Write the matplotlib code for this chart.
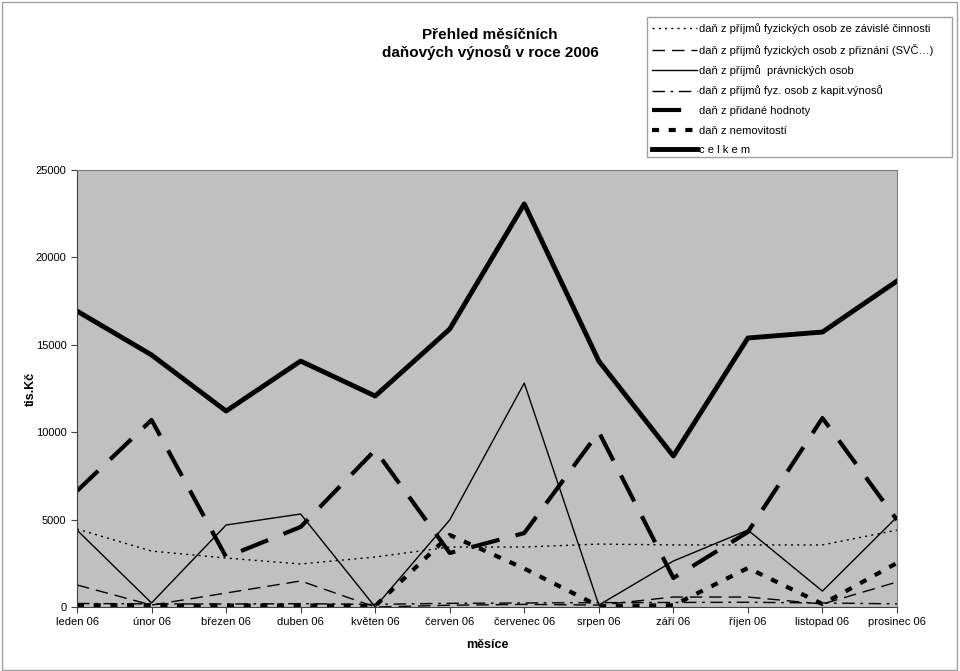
import matplotlib.pyplot as plt
from matplotlib.patches import Rectangle

plt.rcParams['font.family'] = ['Liberation Sans', 'DejaVu Sans']

mesice = ['leden 06', 'únor 06', 'březen 06', 'duben 06', 'květen 06', 'červen 06',
          'červenec 06', 'srpen 06', 'září 06', 'říjen 06', 'listopad 06', 'prosinec 06']

zavisla = [4460, 3200, 2800, 2460, 2860, 3430, 3430, 3600, 3550, 3550, 3550, 4400]
priznani = [1260, 110, 800, 1490, 0, 100, 150, 110, 570, 570, 170, 1430]
pravnicke = [4400, 230, 4690, 5320, 0, 4980, 12810, 110, 2630, 4400, 910, 5150]
kapital = [200, 180, 170, 190, 150, 210, 230, 250, 260, 270, 230, 180]
dph = [6640, 10700, 2860, 4580, 8980, 3090, 4230, 10010, 1660, 4290, 10810, 4980]
nemovitosti = [100, 100, 80, 90, 60, 4120, 2200, 50, 100, 2230, 170, 2520]
celkem = [16930, 14420, 11210, 14070, 12070, 15900, 23060, 14070, 8640, 15390, 15730, 18650]

fig = plt.figure(figsize=(9.6, 6.71), dpi=100)
fig.patches.append(Rectangle((0.002, 0.002), 0.995, 0.995, transform=fig.transFigure,
                             fill=False, edgecolor='#a0a0a0', linewidth=1))

ax = fig.add_axes([77 / 960, 1 - 607 / 671, 820 / 960, 437 / 671])
ax.set_facecolor('#c0c0c0')
x = range(len(mesice))

ax.plot(x, zavisla, color='black', lw=1, linestyle=(0, (1.5, 3)),
        label='daň z příjmů fyzických osob ze závislé činnosti')
ax.plot(x, priznani, color='black', lw=1, linestyle=(0, (9, 5)),
        label='daň z příjmů fyzických osob z přiznání (SVČ…)')
ax.plot(x, pravnicke, color='black', lw=1, linestyle='-',
        label='daň z příjmů  právnických osob')
ax.plot(x, kapital, color='black', lw=1, linestyle=(0, (9, 4, 2, 4)),
        label='daň z příjmů fyz. osob z kapit.výnosů')
ax.plot(x, dph, color='black', lw=3, linestyle=(0, (7, 4)),
        label='daň z přidané hodnoty')
ax.plot(x, nemovitosti, color='black', lw=3, linestyle=(0, (1.7, 2.3)),
        label='daň z nemovitostí')
ax.plot(x, celkem, color='black', lw=3.5, linestyle='-',
        label='c e l k e m')

ax.set_xlim(0, len(mesice) - 1)
ax.set_ylim(0, 25000)
ax.set_yticks(range(0, 25001, 5000))
ax.set_xticks(list(x))
ax.set_xticklabels(mesice)
ax.tick_params(axis='both', labelsize=8, length=4, color='#404040')
for s in ['top', 'right']:
    ax.spines[s].set_color('#808080')
ax.spines['left'].set_color('#404040')
ax.spines['bottom'].set_color('#404040')

ax.set_ylabel('tis.Kč', fontsize=9, fontweight='bold')
ax.yaxis.set_label_coords(-40 / 820, 0.5)
ax.set_xlabel('měsíce', fontsize=9, fontweight='bold', labelpad=8)

fig.text(490 / 960, 1 - 44 / 671, 'Přehled měsíčních\ndaňových výnosů v roce 2006',
         ha='center', va='center', fontsize=11, fontweight='bold', linespacing=1.2)

# legend frame drawn separately, as in the original it is wider than the text
fig.patches.append(Rectangle((647 / 960, 1 - 157 / 671), 305 / 960, 140 / 671,
                             transform=fig.transFigure, facecolor='white',
                             edgecolor='#a0a0a0', linewidth=1, zorder=0))
fig.legend(loc='upper left', bbox_to_anchor=(641 / 960, 1 - 12 / 671),
           fontsize=8, frameon=False, handlelength=4.0,
           handletextpad=0.25, labelspacing=0.86, borderpad=0.5)

fig.savefig('out.png', dpi=100)
